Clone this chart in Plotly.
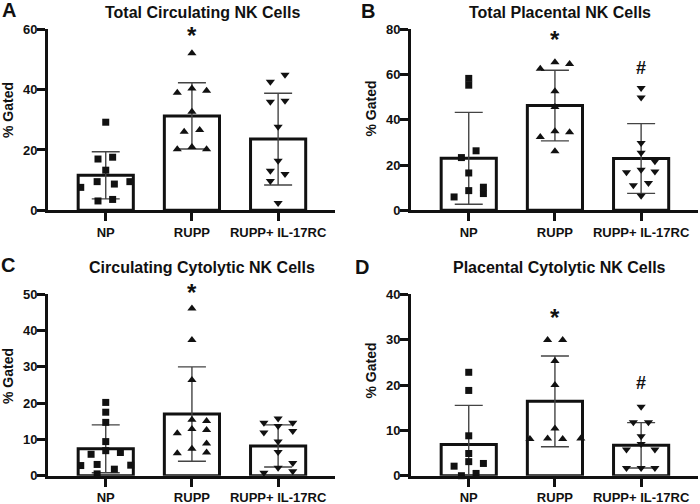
import plotly.graph_objects as go

# ---------------- data ----------------
CATEGORIES = ["NP", "RUPP", "RUPP+ IL-17RC"]

# Panel A: Total Circulating NK Cells
A_NP = [29.2, 17.0, 17.6, 13.3, 9.5, 8.7, 9.5, 7.6, 3.1, 3.6]
A_RUPP = [52.1, 40.4, 39.6, 39.0, 32.7, 26.6, 26.0, 21.0, 20.2, 20.2]
A_IL = [44.9, 42.6, 36.0, 36.3, 27.7, 16.4, 13.1, 12.0, 9.7, 2.4]
A_MEAN = [11.6, 31.3, 23.6]
A_SD = [7.8, 11.0, 15.2]

# Panel B: Total Placental NK Cells
B_NP = [58.3, 55.3, 26.3, 23.3, 16.5, 8.7, 10.2, 7.4, 5.9]
B_RUPP = [62.6, 65.4, 64.7, 52.6, 45.7, 32.4, 34.9, 34.5, 26.1]
B_IL = [54.1, 49.9, 29.8, 25.4, 21.7, 16.8, 17.9, 17.2, 11.1, 12.1, 6.4]
B_MEAN = [23.0, 46.3, 22.9]
B_SD = [20.3, 15.6, 15.4]

# Panel C: Circulating Cytolytic NK Cells
C_NP = [20.2, 17.5, 14.7, 9.4, 6.9, 5.9, 6.4, 3.1, 2.8, 2.9, 1.8, 0.5]
C_RUPP = [46.1, 37.4, 26.4, 15.4, 15.1, 12.9, 12.6, 11.7, 8.9, 7.4, 6.2, 6.4]
C_IL = [14.6, 15.8, 14.6, 11.9, 13.7, 12.3, 9.4, 6.5, 3.5, 2.2, 0.8, 1.2]
C_MEAN = [7.4, 17.0, 8.2]
C_SD = [6.6, 13.0, 5.8]

# Panel D: Placental Cytolytic NK Cells
D_NP = [22.8, 18.8, 8.8, 4.9, 3.1, 2.7, 2.1, 0.5, 0.0]
D_RUPP = [29.9, 29.9, 25.3, 20.0, 10.4, 8.2, 8.1, 8.2, 8.1]
D_IL = [15.2, 11.8, 11.8, 8.7, 7.0, 5.8, 5.8, 1.7, 1.7, 1.7]
D_MEAN = [6.9, 16.4, 6.7]
D_SD = [8.6, 10.0, 5.0]

# horizontal scatter (jitter) of the dots, in category units
A_NP_DX = [0, -0.09, 0.08, 0, -0.1, 0.1, 0.28, -0.29, -0.09, 0.08]
A_RUPP_DX = [0, 0, 0.17, -0.17, 0, 0.09, -0.09, 0, 0.17, -0.17]
A_IL_DX = [0.08, -0.09, -0.09, 0.08, 0, 0, -0.09, 0.08, -0.09, 0]
B_NP_DX = [0, 0, 0.085, -0.085, 0, 0, 0.17, 0.17, -0.17]
B_RUPP_DX = [-0.17, 0, 0.17, 0, 0, -0.17, 0, 0.17, 0]
B_IL_DX = [0, 0, 0, 0, 0.16, -0.17, 0, 0.16, -0.09, 0.085, 0]
C_NP_DX = [0, 0, 0, 0, 0, -0.17, 0.17, -0.1, -0.29, 0.29, 0.1, -0.1]
C_RUPP_DX = [0, 0, 0, 0, 0.17, 0, 0.17, -0.17, 0.17, 0, -0.17, 0.17]
C_IL_DX = [-0.165, 0, 0.17, -0.165, 0, 0.17, 0, 0, 0.17, 0, -0.165, 0.17]
D_NP_DX = [0, 0, 0, 0, 0, 0.17, -0.17, 0.085, -0.085]
D_RUPP_DX = [-0.085, 0.09, 0, 0, 0, -0.085, 0.09, 0.3, -0.29]
D_IL_DX = [0, -0.09, 0.085, 0, 0, -0.17, 0.16, -0.17, 0, 0.16]

TITLES = ["Total Circulating NK Cells", "Total Placental NK Cells",
          "Circulating Cytolytic NK Cells", "Placental Cytolytic NK Cells"]
LETTERS = ["A", "B", "C", "D"]
Y_MAX = [60, 80, 50, 40]
Y_DTICK = [20, 20, 10, 10]
# significance marks: (category index, symbol, height in data units)
SIG_A = [(1, "*", 58.8)]
SIG_B = [(1, "*", 76.8), (2, "#", 63.1)]
SIG_C = [(1, "*", 51.2)]
SIG_D = [(1, "*", 35.4), (2, "#", 20.4)]

# ---------------- figure ----------------
W, H = 700, 504
FONT = "Liberation Sans, Arial, Helvetica, sans-serif"
SYMBOLS = ["square", "triangle-up", "triangle-down"]

panels = [
    (A_MEAN, A_SD, [A_NP, A_RUPP, A_IL], [A_NP_DX, A_RUPP_DX, A_IL_DX], SIG_A),
    (B_MEAN, B_SD, [B_NP, B_RUPP, B_IL], [B_NP_DX, B_RUPP_DX, B_IL_DX], SIG_B),
    (C_MEAN, C_SD, [C_NP, C_RUPP, C_IL], [C_NP_DX, C_RUPP_DX, C_IL_DX], SIG_C),
    (D_MEAN, D_SD, [D_NP, D_RUPP, D_IL], [D_NP_DX, D_RUPP_DX, D_IL_DX], SIG_D),
]

# pixel boxes of each plot area: (left, right, top, bottom)
boxes = [(48, 335, 29.3, 210.3), (411, 698, 29.3, 210.3),
         (48, 335, 294.3, 475.7), (411, 698, 294.3, 475.7)]
title_pos = [(202, 12.5), (559.5, 12.5), (202, 267), (559, 267.5)]
letter_pos = [(8.5, 10), (367.5, 10.5), (8, 264.5), (362, 266.5)]
ytitle_pos = [(8, 110), (370, 108.5), (8, 376), (370.5, 371)]

fig = go.Figure()
layout = dict(width=W, height=H, margin=dict(l=0, r=0, t=0, b=0),
              paper_bgcolor="white", plot_bgcolor="white", showlegend=False)
annotations = []

for i, (means, sds, groups, dxs, sigs) in enumerate(panels):
    n = "" if i == 0 else str(i + 1)
    xa, ya = "x" + n, "y" + n
    l, r, t, b = boxes[i]
    fig.add_trace(go.Bar(
        x=[0, 1, 2], y=means, xaxis=xa, yaxis=ya, width=0.64,
        marker=dict(color="white", line=dict(color="#111", width=3)),
        error_y=dict(type="data", array=sds, symmetric=True, color="#444",
                     thickness=1.4, width=14),
        hoverinfo="skip"))
    for g, (vals, dx) in enumerate(zip(groups, dxs)):
        fig.add_trace(go.Scatter(
            x=[g + d for d in dx], y=vals, xaxis=xa, yaxis=ya, mode="markers",
            marker=dict(symbol=SYMBOLS[g], size=7 if g == 0 else 8,
                        color="#111", line=dict(width=0)),
            cliponaxis=False, hoverinfo="skip"))
    layout["xaxis" + n] = dict(
        domain=[l / W, r / W], anchor=ya, range=[-0.67, 2.66], automargin=False,
        tickvals=[0, 1, 2], ticktext=CATEGORIES, showgrid=False, zeroline=False,
        showline=True, linecolor="#111", linewidth=3, ticks="outside",
        ticklen=8, tickwidth=2.5, tickcolor="#111",
        tickfont=dict(family=FONT, size=13, color="#111", weight="bold"))
    layout["yaxis" + n] = dict(
        domain=[1 - b / H, 1 - t / H], anchor=xa, range=[0, Y_MAX[i]],
        automargin=False, ticklabelstandoff=-3,
        tick0=0, dtick=Y_DTICK[i], showgrid=False, zeroline=False,
        showline=True, linecolor="#111", linewidth=3, ticks="outside",
        ticklen=8, tickwidth=2.5, tickcolor="#111",
        tickfont=dict(family=FONT, size=13, color="#111", weight="bold"))
    for (cx, sym, hy) in sigs:
        annotations.append(dict(
            x=cx, y=hy / Y_MAX[i], xref=xa, yref=ya + " domain", text=sym,
            showarrow=False, xanchor="center",
            yanchor="middle" if sym == "#" else "top",
            yshift=0 if sym == "#" else 13,
            font=dict(family=FONT, size=24 if sym == "*" else 18,
                      color="#111", weight="bold")))
    tx, ty = title_pos[i]
    annotations.append(dict(
        x=tx / W, y=1 - ty / H, xref="paper", yref="paper", text=TITLES[i],
        showarrow=False, xanchor="center", yanchor="middle",
        font=dict(family=FONT, size=16, color="#111", weight="bold")))
    lx, ly = letter_pos[i]
    annotations.append(dict(
        x=lx / W, y=1 - ly / H, xref="paper", yref="paper", text=LETTERS[i],
        showarrow=False, xanchor="center", yanchor="middle",
        font=dict(family=FONT, size=20, color="#111", weight="bold")))
    yx, yy = ytitle_pos[i]
    annotations.append(dict(
        x=yx / W, y=1 - yy / H, xref="paper", yref="paper", text="% Gated",
        textangle=-90, showarrow=False, xanchor="center", yanchor="middle",
        font=dict(family=FONT, size=14, color="#111", weight="bold")))

layout["annotations"] = annotations
fig.update_layout(**layout)
fig.write_html(
    "out.html",
    config={"displayModeBar": False},
    post_script="document.body.style.margin='0';document.body.style.overflow='hidden';")
